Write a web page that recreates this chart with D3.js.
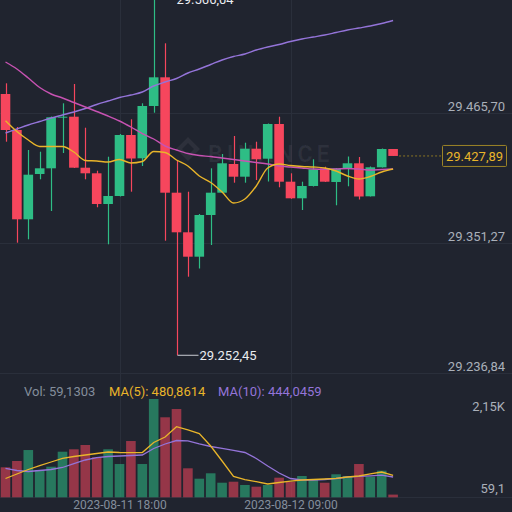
<!DOCTYPE html>
<html>
<head>
	<meta charset="utf-8">
	<title>BTC/USDT 1h</title>
	<style>
		body { margin: 0; background: #20242f; }
		svg { display: block; font-family: Roboto, "Noto Sans", sans-serif; }
	</style>
</head>
<body>
	<svg id="chart" width="512" height="512"></svg>

	<script src="https://cdn.jsdelivr.net/npm/d3@7"></script>
	<script>
		// hourly candles, 2023-08-11 08:00 .. 2023-08-12 18:00
		var times = d3.timeHour.range(new Date(2023, 7, 11, 8), new Date(2023, 7, 12, 19));

		var open = [29482.42, 29450.74, 29372.13, 29412.01, 29417.02, 29461.92, 29462.44, 29417.55, 29412.62, 29385.60,
			29392.64, 29446.34, 29425.83, 29471.86, 29497.12, 29395.55, 29360.69, 29339.22, 29375.92, 29395.55,
			29420.81, 29409.63, 29434.28, 29425.47, 29456.02, 29405.23, 29390.62, 29401.45, 29417.02, 29404.97,
			29417.29, 29421.43, 29392.38, 29417.91, 29434.01];
		var high = [29491.84, 29453.38, 29433.13, 29431.64, 29462.62, 29474.24, 29491.23, 29452.76, 29414.91, 29427.24,
			29447.22, 29460.15, 29474.24, 29566.04, 29527.05, 29424.33, 29396.43, 29376.80, 29417.02, 29429.61,
			29445.46, 29439.56, 29440.44, 29456.46, 29462.44, 29412.62, 29405.23, 29424.95, 29418.43, 29417.29,
			29427.41, 29426.97, 29418.61, 29434.45, 29434.01];
		var low = [29440.44, 29351.54, 29354.53, 29407.34, 29379.44, 29430.49, 29417.29, 29407.34, 29382.70, 29350.13,
			29392.20, 29396.43, 29419.05, 29465.96, 29353.30, 29252.45, 29321.61, 29328.83, 29349.51, 29395.28,
			29404.35, 29404.35, 29406.73, 29405.40, 29400.30, 29390.18, 29380.32, 29401.00, 29404.96, 29384.46,
			29401.18, 29389.56, 29392.20, 29417.73, 29427.89];
		var close = [29450.74, 29372.13, 29411.39, 29417.02, 29461.92, 29462.44, 29417.55, 29412.62, 29385.60, 29392.64,
			29446.34, 29425.65, 29471.86, 29497.12, 29395.55, 29360.69, 29339.22, 29375.92, 29395.55, 29421.43,
			29409.63, 29434.28, 29424.95, 29456.02, 29405.23, 29390.62, 29401.45, 29416.14, 29405.23, 29416.85,
			29421.43, 29392.20, 29417.91, 29434.01, 29427.89];

		var ma7 = [29458.92, 29449.41, 29441.93, 29436.21, 29436.21, 29436.21, 29431.37, 29423.89, 29423.45, 29422.57,
			29424.77, 29421.69, 29423.01, 29431.81, 29430.93, 29424.33, 29419.05, 29410.24, 29404.52, 29396.16,
			29386.48, 29390.00, 29401.44, 29417.29, 29420.81, 29419.49, 29418.61, 29418.17, 29417.29, 29414.65,
			29410.24, 29407.60, 29409.80, 29413.77, 29416.41];
		var ma25 = [29510.59, 29504.43, 29496.50, 29488.14, 29482.42, 29478.90, 29474.94, 29470.98, 29467.02, 29463.06,
			29458.66, 29453.37, 29447.65, 29442.81, 29436.65, 29433.13, 29430.05, 29428.29, 29427.41, 29426.09,
			29424.77, 29423.45, 29422.13, 29420.81, 29419.05, 29418.17, 29417.29, 29416.41, 29416.14, 29416.41,
			29416.85, 29416.41, 29415.53, 29415.97, 29416.41];
		var ma99 = [29448.09, 29451.61, 29455.13, 29458.22, 29461.30, 29463.94, 29466.58, 29469.66, 29473.18, 29476.26,
			29479.34, 29481.54, 29484.18, 29489.46, 29492.98, 29496.06, 29500.91, 29504.43, 29508.39, 29512.35,
			29515.43, 29517.63, 29521.15, 29523.79, 29525.99, 29528.63, 29530.83, 29532.59, 29534.35, 29536.55,
			29538.75, 29540.51, 29542.27, 29544.48, 29547.12];

		var vol = [656, 794, 1034, 597, 669, 997, 1050, 1144, 875, 1050, 728, 1231, 728, 2150, 1750, 1931, 634, 407,
			525, 319, 341, 269, 232, 269, 429, 341, 466, 378, 319, 503, 466, 728, 451, 582, 59.1303];
		var volMa5 = [411, 510, 608, 695, 772, 849, 892, 925, 958, 991, 980, 975, 980, 1198, 1319, 1544, 1472, 1395,
			1122, 794, 455, 385, 341, 291, 324, 356, 378, 389, 400, 416, 444, 466, 510, 553, 480.8614];
		var volMa10 = [634, 586, 564, 586, 608, 652, 739, 816, 870, 892, 903, 914, 925, 1067, 1166, 1242, 1236, 1166,
			1111, 1072, 1028, 980, 849, 685, 531, 411, 378, 378, 389, 411, 444, 459, 470, 483, 444.0459];

		var priceTicks = [29236.84, 29351.27, 29465.70];
		var timeTicks = [new Date(2023, 7, 11, 18), new Date(2023, 7, 12, 9)];

		var bg = "#20242f";
		var up = "#2ebd85", down = "#f6465d";
		var cYellow = "#e9b52a", cPink = "#c752b2", cPurple = "#9474d9";

		var loc = d3.formatLocale({decimal: ",", thousands: ".", grouping: [3], currency: ["", ""]});
		var fmtPrice = loc.format(",.2f");

		var svg = d3.select("#chart");
		var x = d3.scaleTime().domain([times[0], times[times.length - 1]]).range([5.5, 393.1]);
		var y = d3.scaleLinear().domain([29236.84, 29465.70]).range([373, 113]);
		var yv = d3.scaleLinear().domain([0, 2150]).range([497.3, 399]);
		var bodyW = 9.6;
		var idx = d3.range(times.length);

		svg.append("rect").attr("width", 512).attr("height", 512).attr("fill", bg);

		// grid
		var grid = svg.append("g").attr("stroke", "#2a2f3b").attr("stroke-width", 1);
		grid.selectAll(".h").data(priceTicks).join("line")
			.attr("x1", 0).attr("x2", 512)
			.attr("y1", function(d) { return Math.round(y(d)) + 0.5; })
			.attr("y2", function(d) { return Math.round(y(d)) + 0.5; });
		grid.selectAll(".v").data(timeTicks).join("line")
			.attr("y1", 0).attr("y2", 497)
			.attr("x1", function(d) { return Math.round(x(d)) + 0.5; })
			.attr("x2", function(d) { return Math.round(x(d)) + 0.5; });
		grid.append("line").attr("x1", 0).attr("x2", 512).attr("y1", 497.5).attr("y2", 497.5);

		// watermark
		var wm = svg.append("g").attr("fill", "#ffffff").attr("fill-opacity", 0.06);
		wm.append("path").attr("d", "M188,137 L200,149 L188,161 L176,149 Z M188,143 L182,149 L188,155 L194,149 Z")
			.attr("fill-rule", "evenodd");
		wm.append("text").attr("x", 208).attr("y", 162).attr("font-size", 23).attr("font-weight", "bold")
			.attr("letter-spacing", 4).text("BINANCE");

		// volume bars
		svg.append("g").selectAll("rect").data(idx).join("rect")
			.attr("x", function(i) { return x(times[i]) - bodyW / 2; })
			.attr("width", bodyW)
			.attr("y", function(i) { return yv(vol[i]); })
			.attr("height", function(i) { return yv(0) - yv(vol[i]); })
			.attr("fill", function(i) { return close[i] >= open[i] ? up : down; })
			.attr("fill-opacity", 0.55);

		var lineV = function(arr) {
			return d3.line().x(function(i) { return x(times[i]); }).y(function(i) { return yv(arr[i]); })(idx);
		};
		svg.append("path").attr("d", lineV(volMa10)).attr("fill", "none").attr("stroke", cPurple).attr("stroke-width", 1.3);
		svg.append("path").attr("d", lineV(volMa5)).attr("fill", "none").attr("stroke", cYellow).attr("stroke-width", 1.3);

		// candles
		var candles = svg.append("g").selectAll("g").data(idx).join("g");
		candles.append("line")
			.attr("x1", function(i) { return Math.round(x(times[i])) + 0.5; })
			.attr("x2", function(i) { return Math.round(x(times[i])) + 0.5; })
			.attr("y1", function(i) { return y(high[i]); })
			.attr("y2", function(i) { return y(low[i]); })
			.attr("stroke", function(i) { return close[i] >= open[i] ? up : down; })
			.attr("stroke-width", 1.2);
		candles.append("rect")
			.attr("x", function(i) { return x(times[i]) - bodyW / 2; })
			.attr("width", bodyW)
			.attr("y", function(i) { return y(Math.max(open[i], close[i])); })
			.attr("height", function(i) { return Math.max(1, Math.abs(y(open[i]) - y(close[i]))); })
			.attr("fill", function(i) { return close[i] >= open[i] ? up : down; });

		// moving averages
		var lineP = function(arr) {
			return d3.line().curve(d3.curveMonotoneX)
				.x(function(i) { return x(times[i]); }).y(function(i) { return y(arr[i]); })(idx);
		};
		svg.append("path").attr("d", lineP(ma99)).attr("fill", "none").attr("stroke", cPurple).attr("stroke-width", 1.4);
		svg.append("path").attr("d", lineP(ma25)).attr("fill", "none").attr("stroke", cPink).attr("stroke-width", 1.4);
		svg.append("path").attr("d", lineP(ma7)).attr("fill", "none").attr("stroke", cYellow).attr("stroke-width", 1.4);

		// price axis
		var pAxis = svg.append("g").attr("transform", "translate(505,0)")
			.call(d3.axisLeft(y).tickValues(priceTicks).tickSize(0).tickPadding(0).tickFormat(fmtPrice));
		pAxis.select(".domain").remove();
		pAxis.selectAll("text").attr("dy", -3).attr("fill", "#aab0ba").attr("font-size", 13)
			.attr("font-family", "Roboto, sans-serif");

		// time axis
		var tAxis = svg.append("g").attr("transform", "translate(0,497)")
			.call(d3.axisBottom(x).tickValues(timeTicks).tickSize(0).tickPadding(3)
				.tickFormat(d3.timeFormat("%Y-%m-%d %H:%M")));
		tAxis.select(".domain").remove();
		tAxis.selectAll("text").attr("fill", "#848e9c").attr("font-size", 12)
			.attr("font-family", "Roboto, sans-serif");

		// high / low markers
		var hi = 13, lo = 15;
		var markers = [
			{t: times[hi], p: high[hi]},
			{t: times[lo], p: low[lo]}
		];
		markers.forEach(function(m) {
			var mx = Math.round(x(m.t)) + 0.5, my = y(m.p);
			svg.append("line").attr("x1", mx).attr("x2", mx + 21).attr("y1", my).attr("y2", my)
				.attr("stroke", "#c9ccd2").attr("stroke-width", 1);
			svg.append("text").attr("x", mx + 22).attr("y", my).attr("dy", "0.35em")
				.attr("fill", "#eaecef").attr("font-size", 13).text(fmtPrice(m.p));
		});

		// current price
		var last = times.length - 1;
		var cy = y(close[last]);
		svg.append("line").attr("x1", x(times[last]) + 6).attr("x2", 442).attr("y1", cy).attr("y2", cy)
			.attr("stroke", "#8a7424").attr("stroke-dasharray", "2,2");
		svg.append("rect").attr("x", 442.5).attr("y", cy - 10.5).attr("width", 64).attr("height", 21)
			.attr("rx", 1).attr("fill", bg).attr("stroke", "#9c8427");
		svg.append("text").attr("x", 474.5).attr("y", cy).attr("dy", "0.35em").attr("text-anchor", "middle")
			.attr("fill", cYellow).attr("font-size", 13).text(fmtPrice(close[last]));

		// volume legend and scale
		var legend = svg.append("g").attr("font-size", 13);
		legend.append("text").attr("x", 24).attr("y", 396).attr("fill", "#848e9c")
			.text("Vol: " + loc.format(".4f")(vol[last]));
		legend.append("text").attr("x", 109).attr("y", 396).attr("fill", cYellow)
			.text("MA(5): " + loc.format(".4f")(volMa5[last]));
		legend.append("text").attr("x", 218).attr("y", 396).attr("fill", cPurple)
			.text("MA(10): " + loc.format(".4f")(volMa10[last]));

		var vmax = d3.max(vol);
		svg.append("text").attr("x", 505).attr("y", 411).attr("text-anchor", "end").attr("fill", "#aab0ba")
			.attr("font-size", 13).text(loc.format(".3s")(vmax).replace("k", "K"));
		svg.append("text").attr("x", 505).attr("y", 493).attr("text-anchor", "end").attr("fill", "#aab0ba")
			.attr("font-size", 13).text(loc.format(".1f")(vol[last]));
	</script>
</body>
</html>
